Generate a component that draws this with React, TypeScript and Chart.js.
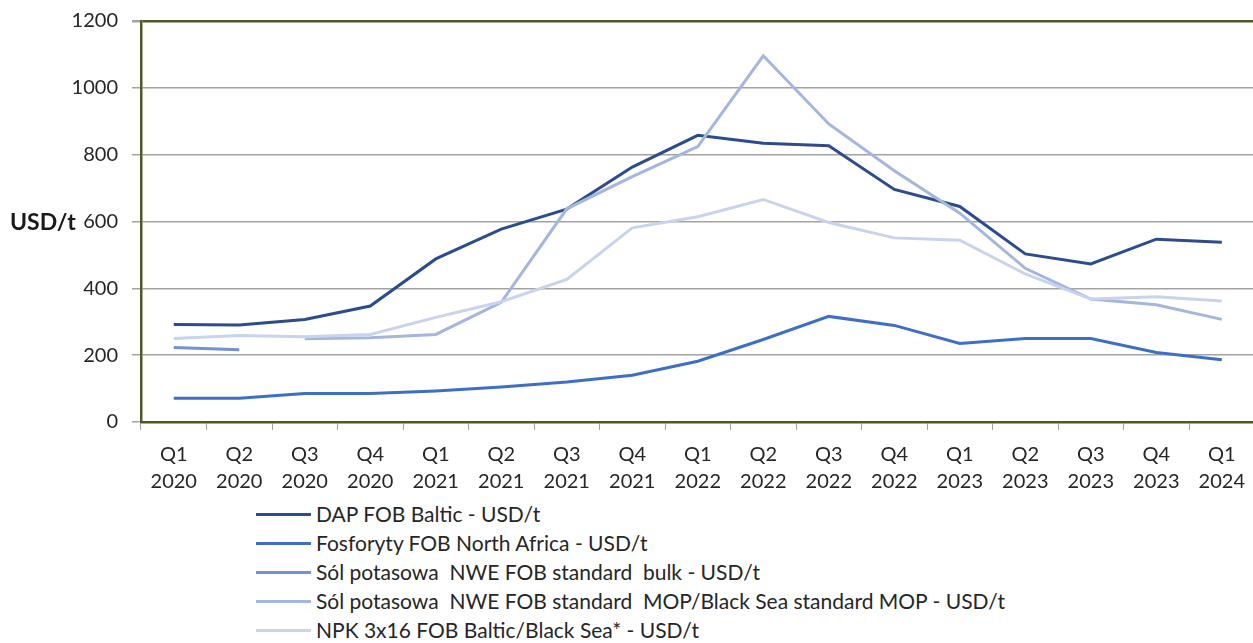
import React, { useEffect, useRef } from "react";
import { Chart, registerables } from "chart.js";

Chart.register(...registerables);

const quarters = ["Q1", "Q2", "Q3", "Q4", "Q1", "Q2", "Q3", "Q4", "Q1", "Q2", "Q3", "Q4", "Q1", "Q2", "Q3", "Q4", "Q1"];
const years = ["2020", "2020", "2020", "2020", "2021", "2021", "2021", "2021", "2022", "2022", "2022", "2022", "2023", "2023", "2023", "2023", "2024"];

const dapValues = [292, 290, 307, 347, 488, 577, 637, 763, 858, 834, 827, 696, 645, 503, 473, 547, 538];
const fosforytyValues = [71, 71, 85, 85, 93, 105, 120, 140, 182, 247, 316, 289, 235, 250, 250, 208, 186];
const bulkValues: (number | null)[] = [223, 216, null, null, null, null, null, null, null, null, null, null, null, null, null, null, null];
const mopValues: (number | null)[] = [null, null, 249, 252, 262, 358, 638, 734, 824, 1096, 892, 752, 625, 460, 368, 351, 307];
const npkValues = [250, 259, 255, 262, 313, 360, 427, 581, 614, 666, 597, 551, 544, 443, 368, 375, 362];

const seriesNames = [
  "DAP FOB Baltic - USD/t",
  "Fosforyty FOB North Africa - USD/t",
  "Sól potasowa  NWE FOB standard  bulk - USD/t",
  "Sól potasowa  NWE FOB standard  MOP/Black Sea standard MOP - USD/t",
  "NPK 3x16 FOB Baltic/Black Sea* - USD/t",
];
const seriesColors = ["#2C4C8C", "#3F6FC4", "#7392D0", "#A4B6DE", "#C8D3EC"];

const yTicks = [0, 200, 400, 600, 800, 1000, 1200];

const FONT = "Lato, 'Noto Sans', sans-serif";
const OLIVE = "#4E5A26";
const GRID = "#A3A3A3";
const TEXT = "#262626";

export default function App() {
  const canvasRef = useRef<HTMLCanvasElement | null>(null);

  useEffect(() => {
    const canvas = canvasRef.current;
    if (!canvas) return;
    const labels = quarters.map((q, i) => [q, years[i]]);
    const allValues = [dapValues, fosforytyValues, bulkValues, mopValues, npkValues];
    const chart = new Chart(canvas, {
      type: "line",
      data: {
        labels,
        datasets: allValues.map((vals, i) => ({
          label: seriesNames[i],
          data: vals,
          borderColor: seriesColors[i],
          backgroundColor: seriesColors[i],
          borderWidth: 3,
          pointRadius: 0,
          pointHoverRadius: 0,
          tension: 0,
          spanGaps: false,
          fill: false,
          order: 5 - i,
        })),
      },
      options: {
        responsive: false,
        animation: false,
        devicePixelRatio: 1,
        layout: { padding: { top: 21, left: 0, right: 0, bottom: 0 } },
        plugins: {
          legend: { display: false },
          tooltip: { enabled: false },
          title: { display: false },
        },
        scales: {
          x: {
            type: "category",
            offset: true,
            afterFit: (scale: any) => {
              scale.height = 78;
            },
            grid: {
              display: true,
              drawOnChartArea: false,
              offset: true,
              tickLength: 8,
              tickColor: GRID,
              color: GRID,
              lineWidth: 1,
            },
            border: { display: true, color: OLIVE, width: 2.5 },
            ticks: {
              color: TEXT,
              font: { family: FONT, size: 20, lineHeight: 1.35 },
              padding: 11,
              maxRotation: 0,
              autoSkip: false,
            },
          },
          y: {
            min: 0,
            max: 1200,
            afterFit: (scale: any) => {
              scale.width = 141;
              scale.paddingTop = 0;
              scale.paddingBottom = 0;
            },
            afterBuildTicks: (scale: any) => {
              scale.ticks = yTicks.map((v) => ({ value: v }));
            },
            grid: {
              color: (ctx: any) => (ctx.tick && ctx.tick.value === 1200 ? OLIVE : GRID),
              lineWidth: (ctx: any) => (ctx.tick && ctx.tick.value === 1200 ? 2.5 : 1.5),
              tickColor: GRID,
              tickLength: 9,
              drawTicks: true,
            },
            border: { display: true, color: OLIVE, width: 2.5 },
            ticks: {
              color: TEXT,
              font: { family: FONT, size: 20 },
              padding: 14,
              callback: (value: any) => String(value),
            },
          },
        },
      },
    });
    return () => chart.destroy();
  }, []);

  const legendTop = 514;
  const legendStep = 29;

  return (
    <div
      style={{
        position: "absolute",
        left: 0,
        top: 0,
        width: 1253,
        height: 643,
        overflow: "hidden",
        background: "#ffffff",
        fontFamily: FONT,
      }}
    >
      <canvas
        ref={canvasRef}
        width={1256}
        height={500}
        style={{ position: "absolute", left: 0, top: 0, width: 1256, height: 500 }}
      />
      <div
        style={{
          position: "absolute",
          left: 10,
          top: 221 - 15,
          height: 30,
          lineHeight: "30px",
          fontSize: 23,
          fontWeight: 700,
          color: "#1a1a1a",
          whiteSpace: "pre",
        }}
      >
        USD/t
      </div>
      {seriesNames.map((name, i) => {
        const cy = legendTop + i * legendStep;
        return (
          <React.Fragment key={name}>
            <div
              style={{
                position: "absolute",
                left: 256,
                top: cy - 1.5,
                width: 55,
                height: 3,
                background: seriesColors[i],
              }}
            />
            <div
              style={{
                position: "absolute",
                left: 316,
                top: cy - 14,
                height: 28,
                lineHeight: "28px",
                fontSize: 21,
                color: TEXT,
                whiteSpace: "pre",
              }}
            >
              {name}
            </div>
          </React.Fragment>
        );
      })}
    </div>
  );
}
